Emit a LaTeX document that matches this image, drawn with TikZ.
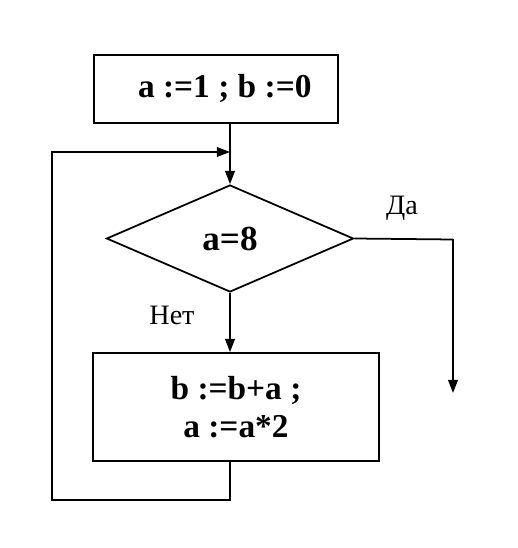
\documentclass[tikz,border=0pt]{standalone}
\usepackage{fontspec}
\setmainfont{Liberation Serif}
\usetikzlibrary{shapes.geometric,arrows.meta}
\begin{document}
\begin{tikzpicture}[line width=1pt,>={Triangle[length=7.5pt,width=5.5pt]},
  block/.style={draw,rectangle,inner sep=0pt,align=center,font=\fontsize{19}{22}\selectfont\bfseries},
  cond/.style={draw,diamond,inner sep=0pt,font=\fontsize{20}{22}\selectfont\bfseries},
  lbl/.style={font=\fontsize{16}{19}\selectfont}]
\path[use as bounding box] (0,0) rectangle (10.36,10.96);

\node[block,minimum width=4.88cm,minimum height=1.36cm] (init) at (4.32,9.18) {\hspace{0.35cm}a :=1 ; b :=0};
\node[cond,minimum width=4.94cm,minimum height=2.14cm] (test) at (4.6,6.19) {a=8};
\node[block,minimum width=5.72cm,minimum height=2.16cm] (body) at (4.72,2.82) {b :=b+a ;\\a :=a*2};

\coordinate (yesturn) at (9.06,6.17);
\coordinate (yesend) at (9.06,3.1);
\coordinate (loopa) at (4.6,0.96);
\coordinate (loopb) at (1.04,0.96);
\coordinate (loopc) at (1.04,7.92);
\coordinate (loopd) at (4.6,7.92);

\path[draw,->] (init.south -| test.north) -- (test.north);
\path[draw,->] (test.south) -- (test.south |- body.north);
\path[draw] (test.east) -- (yesturn);
\path[draw,->] (yesturn) -- (yesend);
\path[draw,->] (test.south |- body.south) -- (loopa) -- (loopb) -- (loopc) -- (loopd);

\node[lbl] (yes) at (8.04,6.8) {Да};
\node[lbl] (no) at (3.44,4.66) {Нет};
\end{tikzpicture}
\end{document}
